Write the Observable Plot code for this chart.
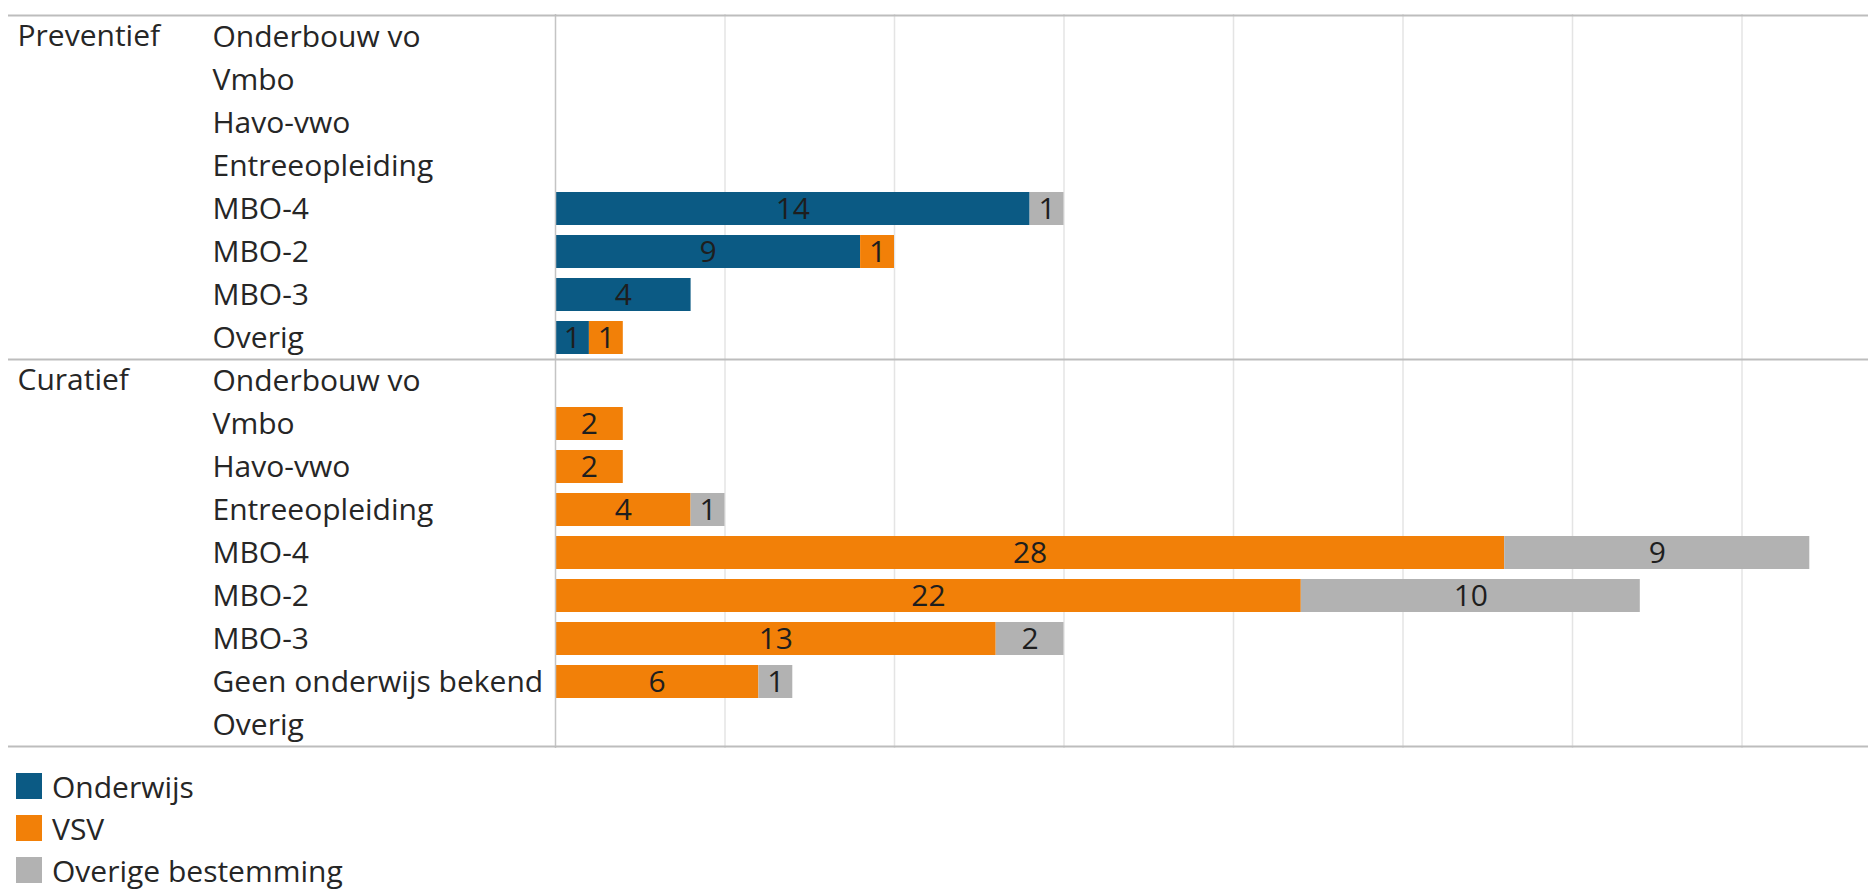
<!DOCTYPE html>
<html>
<head>
<meta charset="utf-8">
<script src="https://cdn.jsdelivr.net/npm/d3@7"></script>
<script src="https://cdn.jsdelivr.net/npm/@observablehq/plot@0.6"></script>
<style>
  html, body { margin: 0; padding: 0; background: #fff; }
  body { font-family: "Open Sans", Lato, sans-serif; color: #262626; }
  #legend { margin-top: 5px; padding-left: 16px; }
  .item { display: flex; align-items: center; height: 42px; font-size: 30px; }
  .sw { width: 26px; height: 26px; margin-right: 10px; }
</style>
</head>
<body>
<div id="chart"></div>
<div id="legend"></div>
<script>
const groups = ["Preventief", "Curatief"];
const preventiefCategories = ["Onderbouw vo", "Vmbo", "Havo-vwo", "Entreeopleiding", "MBO-4", "MBO-2", "MBO-3", "Overig"];
const curatiefCategories = ["Onderbouw vo", "Vmbo", "Havo-vwo", "Entreeopleiding", "MBO-4", "MBO-2", "MBO-3", "Geen onderwijs bekend", "Overig"];
const series = ["Onderwijs", "VSV", "Overige bestemming"];
const seriesColors = ["#0b5a84", "#f28008", "#b2b2b2"];

const preventiefOnderwijs = [0, 0, 0, 0, 14, 9, 4, 1];
const preventiefVSV       = [0, 0, 0, 0, 0, 1, 0, 1];
const preventiefOverige   = [0, 0, 0, 0, 1, 0, 0, 0];

const curatiefOnderwijs = [0, 0, 0, 0, 0, 0, 0, 0, 0];
const curatiefVSV       = [0, 2, 2, 4, 28, 22, 13, 6, 0];
const curatiefOverige   = [0, 0, 0, 1, 9, 10, 2, 1, 0];

const gridTicks = [5, 10, 15, 20, 25, 30, 35];

// build tables
const groupCats = {Preventief: preventiefCategories, Curatief: curatiefCategories};
const groupValues = {
  Preventief: [preventiefOnderwijs, preventiefVSV, preventiefOverige],
  Curatief: [curatiefOnderwijs, curatiefVSV, curatiefOverige]
};
const keys = [];
const rows = [];
for (const g of groups) {
  groupCats[g].forEach((c, i) => {
    const key = g + "|" + c;
    keys.push(key);
    rows.push({key, group: g, category: c, first: i === 0, last: i === groupCats[g].length - 1});
  });
}
const data = [];
for (const g of groups) {
  groupCats[g].forEach((c, i) => {
    series.forEach((s, j) => {
      const v = groupValues[g][j][i];
      if (v > 0) data.push({key: g + "|" + c, series: s, value: v});
    });
  });
}

const W = 1868, H = 760, mTop = 14, mBottom = 12, mLeft = 8;
const step = (H - mTop - mBottom) / keys.length;
const font = "'Open Sans', Lato, sans-serif";
const fs = 30;

const chart = Plot.plot({
  width: W,
  height: H,
  marginTop: mTop,
  marginBottom: mBottom,
  marginLeft: mLeft,
  marginRight: 0,
  style: {fontFamily: font, background: "#fff"},
  x: {domain: [0, 35], range: [555, 555 + 35 * 33.9], axis: null},
  y: {domain: keys, paddingInner: 0.23, paddingOuter: 0.115, axis: null},
  color: {domain: series, range: seriesColors},
  marks: [
    Plot.gridX(gridTicks, {stroke: "#e4e4e4", strokeOpacity: 1, strokeWidth: 1.5}),
    Plot.barX(data, Plot.stackX({x: "value", y: "key", fill: "series", order: series})),
    Plot.text(data, Plot.stackX({x: "value", y: "key", z: "series", order: series, text: "value",
      fill: "#1e1e1e", fontSize: fs})),
    Plot.ruleX([0], {stroke: "#c4c4c4", strokeWidth: 1.5}),
    Plot.text(rows, {y: "key", text: "category", frameAnchor: "left", textAnchor: "start",
      dx: 212 - mLeft, fill: "#262626", fontSize: fs}),
    Plot.text(rows.filter(d => d.first), {y: "key", text: "group", frameAnchor: "left", textAnchor: "start",
      dx: 17 - mLeft, dy: -1, fill: "#262626", fontSize: fs}),
    Plot.ruleY(rows.filter(d => d.first), {y: "key", dy: -step / 2, stroke: "#bdbdbd", strokeWidth: 2}),
    Plot.ruleY(rows.filter(d => d.last && d.group === "Curatief"), {y: "key", dy: step / 2, stroke: "#bdbdbd", strokeWidth: 2})
  ]
});
document.getElementById("chart").appendChild(chart);

const legend = document.getElementById("legend");
series.forEach((s, i) => {
  const item = document.createElement("div");
  item.className = "item";
  const sw = document.createElement("div");
  sw.className = "sw";
  sw.style.background = seriesColors[i];
  const t = document.createElement("span");
  t.textContent = s;
  item.appendChild(sw);
  item.appendChild(t);
  legend.appendChild(item);
});
</script>
</body>
</html>
